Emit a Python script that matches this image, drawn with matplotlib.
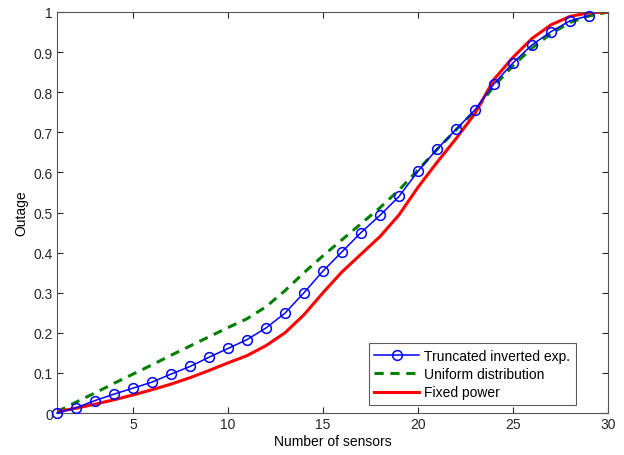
import numpy as np
import matplotlib
matplotlib.use("Agg")
import matplotlib.pyplot as plt

plt.rcParams['font.family'] = ['Liberation Sans', 'DejaVu Sans']

# ===== data =====
sensors = np.arange(1, 31)

trunc_inv_exp = [0.0, 0.013, 0.031, 0.047, 0.062, 0.077, 0.097, 0.116, 0.139, 0.161,
                 0.183, 0.212, 0.249, 0.300, 0.354, 0.402, 0.450, 0.493, 0.540, 0.603,
                 0.658, 0.707, 0.756, 0.821, 0.873, 0.918, 0.951, 0.978, 0.991]

uniform = [0.003, 0.027, 0.050, 0.074, 0.097, 0.120, 0.144, 0.167, 0.190, 0.213,
           0.235, 0.265, 0.305, 0.350, 0.392, 0.432, 0.472, 0.512, 0.556, 0.606,
           0.657, 0.706, 0.754, 0.815, 0.866, 0.910, 0.946, 0.974, 0.990, 1.0]

fixed_power = [0.003, 0.012, 0.022, 0.033, 0.045, 0.058, 0.072, 0.088, 0.106, 0.125,
               0.143, 0.168, 0.200, 0.245, 0.300, 0.352, 0.396, 0.440, 0.494, 0.563,
               0.625, 0.684, 0.747, 0.832, 0.887, 0.934, 0.968, 0.989, 0.998, 1.0]


def main():
    fig = plt.figure(figsize=(6.24, 4.56), dpi=100)
    ax = fig.add_axes([57 / 624, 1 - 414 / 456, 551 / 624, 401 / 456])

    ax.plot(sensors[:len(trunc_inv_exp)], trunc_inv_exp, color=(0, 0, 1), lw=1.1,
            marker='o', ms=7, mfc='none', mew=1.1, label="Truncated inverted exp.",
            clip_on=False, zorder=3)
    ax.plot(sensors, uniform, color=(0, 0.5, 0), lw=2.2, ls=(0, (3, 2.2)),
            label="Uniform distribution", zorder=2)
    ax.plot(sensors, fixed_power, color=(1, 0, 0), lw=2.2,
            label="Fixed power", zorder=2)

    ax.set_xlim(1, 30)
    ax.set_ylim(0, 1)
    ax.set_xticks([5, 10, 15, 20, 25, 30])
    ax.set_yticks(np.arange(0, 1.01, 0.1))
    ax.set_yticklabels(["0"] + ["%.1f" % v for v in np.arange(0.1, 0.95, 0.1)] + ["1"])
    ax.tick_params(direction='in', top=True, right=True, labelsize=10,
                   colors='#262626', length=4, width=0.8, pad=3)
    for s in ax.spines.values():
        s.set_color('#555555')
        s.set_linewidth(0.8)

    ax.set_xlabel("Number of sensors", fontsize=10, labelpad=2)
    ax.set_ylabel("Outage", fontsize=10, labelpad=4)

    leg = ax.legend(loc='lower right', bbox_to_anchor=(0.942, 0.02), fontsize=10,
                    frameon=True, fancybox=False, edgecolor='#333333',
                    borderaxespad=0.0, handlelength=3.2, handletextpad=0.4,
                    labelspacing=0.32, borderpad=0.4)
    leg.get_frame().set_linewidth(0.8)

    fig.savefig("out.png", dpi=100)


if __name__ == "__main__":
    main()
